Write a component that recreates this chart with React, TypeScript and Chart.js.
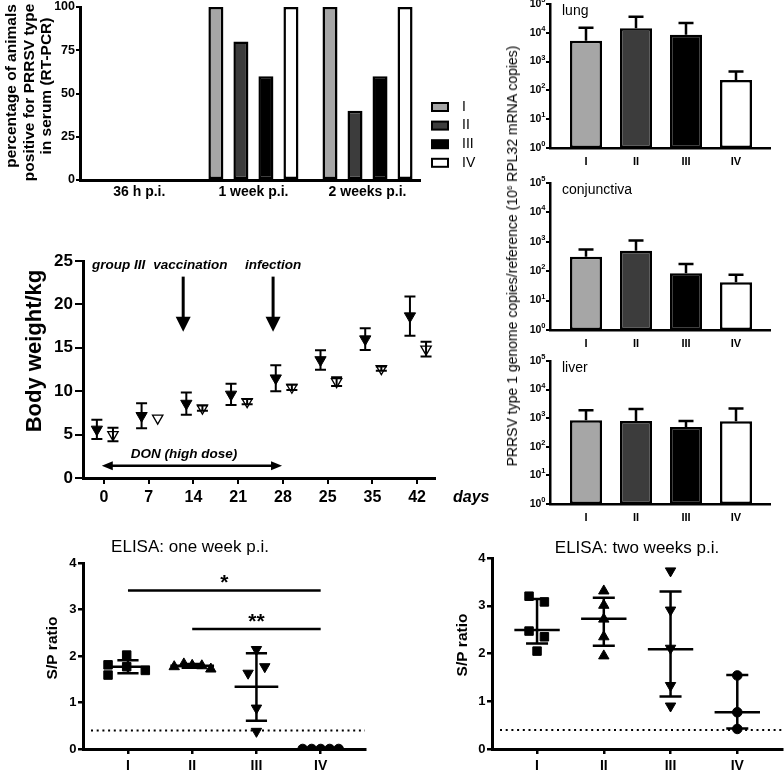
import React, { useEffect, useRef } from 'react';
import { Chart, registerables } from 'chart.js';

Chart.register(...registerables);

const FONT = '"Liberation Sans", Arial, Helvetica, sans-serif';
Chart.defaults.font.family = FONT;
Chart.defaults.color = '#000';

// ---------------- data ----------------
const groupNames = ['I', 'II', 'III', 'IV'];
const groupFill = ['#a6a6a6', '#3c3c3c', '#000000', '#ffffff'];

const rtTimepoints = ['36 h p.i.', '1 week p.i.', '2 weeks p.i.'];
const rtGroupI = [0, 100, 100];
const rtGroupII = [0, 80, 40];
const rtGroupIII = [0, 60, 60];
const rtGroupIV = [0, 100, 100];
const rtTitleLines = ['percentage of animals', 'positive for PRRSV type 1', 'in serum (RT-PCR)'];

const lungMean = [5300, 14400, 8600, 230];
const lungUpper = [15000, 36000, 22000, 450];
const conjMean = [310, 500, 85, 42];
const conjUpper = [550, 1100, 175, 76];
const liverMean = [850, 800, 490, 780];
const liverUpper = [1900, 2100, 800, 2200];
const logTickValues = [1, 10, 100, 1000, 10000, 100000];

const dayLabels = ['0', '7', '14', '21', '28', '25', '35', '42'];
const weightDON = [5.6, 7.17, 8.58, 9.63, 11.5, 13.6, 16.0, 18.65];
const weightDONsd = [1.1, 1.43, 1.28, 1.23, 1.5, 1.13, 1.25, 2.25];
const weightCtrl = [5.0, 6.9, 8.05, 8.8, 10.45, 11.1, 12.6, 14.85];
const weightCtrlSd = [0.78, 0, 0.3, 0.3, 0.3, 0.5, 0.25, 0.85];

const elisa1I = [1.81, 1.59, 2.02, 1.77, 1.69];
const elisa1II = [1.77, 1.83, 1.8, 1.79, 1.72];
const elisa1III = [2.14, 1.63, 1.77, 0.88, 0.38];
const elisa1IV = [0, 0, 0, 0, 0];
const elisa1Center = [1.77, 1.79, 1.34, 0];
const elisa1Low = [1.63, 1.75, 0.61, 0];
const elisa1High = [1.91, 1.83, 2.06, 0];

const elisa2I = [3.2, 3.08, 2.47, 2.35, 2.05];
const elisa2II = [3.31, 3.01, 2.72, 2.35, 1.95];
const elisa2III = [3.73, 2.91, 2.11, 1.33, 0.9];
const elisa2IV = [1.54, 0.77, 0.42];
const elisa2Center = [2.49, 2.73, 2.09, 0.77];
const elisa2Low = [2.21, 2.16, 1.1, 0.43];
const elisa2High = [3.14, 3.17, 3.3, 1.55];

const cutoff = 0.4;
const sigFrom = [0, 1];
const sigTo = [3, 3];
const sigLevel = [3.41, 2.58];
const sigText = ['*', '**'];

// ---------------- styles ----------------
const jitter1 = [
  [-0.31, -0.31, -0.02, -0.02, 0.27],
  [-0.28, -0.13, 0, 0.15, 0.29],
  [0, -0.13, 0.13, 0, 0],
  [-0.28, -0.14, 0, 0.14, 0.28],
];
const jitter2 = [
  [-0.12, 0.11, -0.12, 0.11, 0],
  [0, 0, 0, 0, 0],
  [0, 0, 0, 0, 0],
  [0, 0, 0],
];
const markers = [
  { style: 'rect', r: 6, rot: 0 },
  { style: 'triangle', r: 6, rot: 0 },
  { style: 'triangle', r: 6, rot: 180 },
  { style: 'circle', r: 4.8, rot: 0 },
];
const dodge = [-0.16, 0.2];

const fnt = (size: number, weight = 'normal', style = 'normal') => `${style} ${weight} ${size}px ${FONT}`;

function label(ctx: any, s: string, x: number, y: number, font: string, align: CanvasTextAlign = 'left', baseline: CanvasTextBaseline = 'middle') {
  ctx.font = font;
  ctx.textAlign = align;
  ctx.textBaseline = baseline;
  ctx.fillStyle = '#000';
  ctx.fillText(s, x, y);
}

function vlabel(ctx: any, s: string, x: number, y: number, font: string) {
  ctx.save();
  ctx.translate(x, y);
  ctx.rotate(-Math.PI / 2);
  label(ctx, s, 0, 0, font, 'center', 'middle');
  ctx.restore();
}

function fitY(w: number) {
  return (s: any) => {
    s.width = w;
    s.paddingTop = 0; s.paddingBottom = 0; s.paddingLeft = 0; s.paddingRight = 0;
  };
}
function fitX(h: number) {
  return (s: any) => {
    s.height = h;
    s.paddingTop = 0; s.paddingBottom = 0; s.paddingLeft = 0; s.paddingRight = 0;
  };
}
const border = (w: number) => ({ display: true, color: '#000', width: w });
const tickGrid = (len: number, w: number) => ({ display: true, offset: false, drawOnChartArea: false, drawTicks: true, tickLength: len, tickWidth: w, color: '#000', lineWidth: w });
const noGrid = { display: false, offset: false, drawTicks: false, tickLength: 0 };
const baseOptions = (pad: any) => ({
  responsive: false,
  animation: false,
  events: [],
  layout: { padding: pad, autoPadding: false },
  plugins: { legend: { display: false }, tooltip: { enabled: false }, title: { display: false } },
});

// ---------------- RT-PCR percentage chart ----------------
function makeRT() {
  const series = [rtGroupI, rtGroupII, rtGroupIII, rtGroupIV];
  const legendPlugin = {
    id: 'rtLegend',
    afterDraw(chart: any) {
      const { ctx, chartArea } = chart;
      const x0 = chartArea.right + 12;
      ctx.save();
      groupNames.forEach((g, i) => {
        const yc = 107 + i * 18.6;
        ctx.fillStyle = groupFill[i];
        ctx.fillRect(x0, yc - 4, 16, 8);
        ctx.lineWidth = 2;
        ctx.strokeStyle = '#000';
        ctx.strokeRect(x0, yc - 4, 16, 8);
        label(ctx, g, x0 + 30, yc, fnt(14));
      });
      rtTitleLines.forEach((t, i) => vlabel(ctx, t, 12 + i * 17.5, 86, fnt(15.5, 'bold')));
      ctx.restore();
    },
  };
  return {
    type: 'bar',
    data: {
      datasets: series.map((s, g) => ({
        label: groupNames[g],
        data: s.map((v, i) => ({ x: i, y: v })),
        backgroundColor: groupFill[g],
        borderColor: '#000',
        borderWidth: 2.5,
        borderSkipped: false,
        categoryPercentage: 0.877,
        barPercentage: 0.6,
      })),
    },
    options: {
      ...baseOptions({ top: 7, right: 70, left: 0, bottom: 0 }),
      scales: {
        x: {
          type: 'linear', min: -0.52, max: 2.46, offset: false,
          afterBuildTicks: (s: any) => { s.ticks = rtTimepoints.map((_, i) => ({ value: i })); },
          ticks: { callback: (v: any) => rtTimepoints[v], font: { size: 14, weight: 'bold' }, padding: 4, autoSkip: false, maxRotation: 0 },
          grid: noGrid,
          border: border(3),
          afterFit: fitX(25),
        },
        y: {
          min: 0, max: 100,
          ticks: { stepSize: 25, font: { size: 12.5, weight: 'bold' }, padding: 1 },
          grid: tickGrid(4, 2),
          border: border(3),
          afterFit: fitY(80),
        },
      },
    },
    plugins: [legendPlugin],
  };
}

// ---------------- log-scale tissue charts ----------------
function makeLog(name: string, mean: number[], upper: number[], padTop: number, xH: number) {
  const extras = {
    id: 'logExtras',
    afterDatasetsDraw(chart: any) {
      const { ctx, chartArea } = chart;
      const y = chart.scales.y;
      const meta = chart.getDatasetMeta(0);
      ctx.save();
      ctx.strokeStyle = '#000';
      ctx.lineWidth = 2.5;
      meta.data.forEach((bar: any, i: number) => {
        const yt = y.getPixelForValue(upper[i]);
        ctx.beginPath();
        ctx.moveTo(bar.x, bar.y);
        ctx.lineTo(bar.x, yt);
        ctx.moveTo(bar.x - 7.5, yt);
        ctx.lineTo(bar.x + 7.5, yt);
        ctx.stroke();
      });
      y.ticks.forEach((t: any) => {
        const py = y.getPixelForValue(t.value);
        const exp = String(Math.round(Math.log10(t.value)));
        ctx.font = fnt(7.5, 'bold');
        const ew = ctx.measureText(exp).width;
        const xr = chartArea.left - 4.5;
        label(ctx, exp, xr, py - 4, fnt(7.5, 'bold'), 'right');
        label(ctx, '10', xr - ew, py, fnt(10.5, 'bold'), 'right');
      });
      label(ctx, name, chartArea.left + 12, chartArea.top + 7, fnt(14));
      ctx.restore();
    },
  };
  return {
    type: 'bar',
    data: {
      datasets: [{
        data: mean.map((v, i) => ({ x: i, y: v })),
        backgroundColor: groupFill,
        borderColor: '#000',
        borderWidth: 2.5,
        borderSkipped: false,
        barPercentage: 0.64,
        categoryPercentage: 1,
      }],
    },
    options: {
      ...baseOptions({ top: padTop, right: 14, left: 0, bottom: 0 }),
      scales: {
        x: {
          type: 'linear', min: -0.72, max: 3.68, offset: false,
          afterBuildTicks: (s: any) => { s.ticks = groupNames.map((_, i) => ({ value: i })); },
          ticks: { callback: (v: any) => groupNames[v], font: { size: 11, weight: 'bold' }, padding: 7, autoSkip: false, maxRotation: 0 },
          grid: noGrid,
          border: border(2.5),
          afterFit: fitX(xH),
        },
        y: {
          type: 'logarithmic', min: 1, max: 100000,
          afterBuildTicks: (s: any) => { s.ticks = logTickValues.map((v) => ({ value: v })); },
          ticks: { display: false },
          grid: tickGrid(4, 2),
          border: border(2.5),
          afterFit: fitY(60),
        },
      },
    },
    plugins: [extras],
  };
}

// ---------------- body weight chart ----------------
function downArrow(ctx: any, x: number, yTop: number, yTip: number, headLen: number, halfW: number, lw: number) {
  ctx.beginPath();
  ctx.lineWidth = lw;
  ctx.moveTo(x, yTop);
  ctx.lineTo(x, yTip - headLen + 1);
  ctx.stroke();
  ctx.beginPath();
  ctx.moveTo(x - halfW, yTip - headLen);
  ctx.lineTo(x + halfW, yTip - headLen);
  ctx.lineTo(x, yTip);
  ctx.closePath();
  ctx.fill();
}

function makeWeight() {
  const extras = {
    id: 'weightExtras',
    afterDatasetsDraw(chart: any) {
      const { ctx, chartArea } = chart;
      const { x, y } = chart.scales;
      ctx.save();
      ctx.strokeStyle = '#000';
      ctx.fillStyle = '#000';
      ctx.lineWidth = 2;
      const vals = [weightDON, weightCtrl];
      const sds = [weightDONsd, weightCtrlSd];
      [0, 1].forEach((d) => {
        const meta = chart.getDatasetMeta(d);
        meta.data.forEach((pt: any, i: number) => {
          const sd = sds[d][i];
          if (!sd) return;
          const y1 = y.getPixelForValue(vals[d][i] + sd);
          const y2 = y.getPixelForValue(vals[d][i] - sd);
          ctx.beginPath();
          ctx.lineWidth = 2;
          ctx.moveTo(pt.x, y1); ctx.lineTo(pt.x, y2);
          ctx.moveTo(pt.x - 5.5, y1); ctx.lineTo(pt.x + 5.5, y1);
          ctx.moveTo(pt.x - 5.5, y2); ctx.lineTo(pt.x + 5.5, y2);
          ctx.stroke();
        });
      });
      // event annotations
      const ty = y.getPixelForValue(24.5);
      label(ctx, 'group III', x.getPixelForValue(-0.27), ty, fnt(13.5, 'bold', 'italic'));
      label(ctx, 'vaccination', x.getPixelForValue(1.1), ty, fnt(13.5, 'bold', 'italic'));
      label(ctx, 'infection', x.getPixelForValue(3.15), ty, fnt(13.5, 'bold', 'italic'));
      ctx.fillStyle = '#000';
      downArrow(ctx, x.getPixelForValue(1.77), y.getPixelForValue(23.2), y.getPixelForValue(16.85), 15, 7.5, 3);
      downArrow(ctx, x.getPixelForValue(3.78), y.getPixelForValue(23.2), y.getPixelForValue(16.85), 15, 7.5, 3);
      // DON period
      const ay = y.getPixelForValue(1.41);
      const ax1 = x.getPixelForValue(-0.05);
      const ax2 = x.getPixelForValue(3.98);
      ctx.beginPath();
      ctx.lineWidth = 2.5;
      ctx.moveTo(ax1 + 8, ay); ctx.lineTo(ax2 - 8, ay);
      ctx.stroke();
      ctx.beginPath();
      ctx.moveTo(ax1, ay); ctx.lineTo(ax1 + 11, ay - 4.5); ctx.lineTo(ax1 + 11, ay + 4.5); ctx.closePath();
      ctx.moveTo(ax2, ay); ctx.lineTo(ax2 - 11, ay - 4.5); ctx.lineTo(ax2 - 11, ay + 4.5); ctx.closePath();
      ctx.fill();
      label(ctx, 'DON (high dose)', x.getPixelForValue(1.79), y.getPixelForValue(2.68), fnt(13.5, 'bold', 'italic'), 'center');
      label(ctx, 'days', chartArea.right + 18, chartArea.bottom + 20, fnt(16, 'bold', 'italic'));
      vlabel(ctx, 'Body weight/kg', 35, 116, fnt(22, 'bold'));
      ctx.restore();
    },
  };
  return {
    type: 'scatter',
    data: {
      datasets: [
        {
          data: weightDON.map((v, i) => ({ x: i + dodge[0], y: v })),
          pointStyle: 'triangle', pointRotation: 180, pointRadius: 6.5,
          pointBackgroundColor: '#000', pointBorderColor: '#000', pointBorderWidth: 1,
        },
        {
          data: weightCtrl.map((v, i) => ({ x: i + dodge[1], y: v })),
          pointStyle: 'triangle', pointRotation: 180, pointRadius: 6,
          pointBackgroundColor: '#fff', pointBorderColor: '#000', pointBorderWidth: 1.3,
        },
      ],
    },
    options: {
      ...baseOptions({ top: 26, right: 60, left: 0, bottom: 0 }),
      scales: {
        x: {
          type: 'linear', min: -0.47, max: 7.4, offset: false,
          afterBuildTicks: (s: any) => { s.ticks = dayLabels.map((_, i) => ({ value: i })); },
          ticks: { callback: (v: any) => dayLabels[v], font: { size: 16, weight: 'bold' }, padding: 4, autoSkip: false, maxRotation: 0 },
          grid: tickGrid(6, 2),
          border: border(3),
          afterFit: fitX(32),
        },
        y: {
          min: 0, max: 25,
          ticks: { stepSize: 5, font: { size: 17, weight: 'bold' }, padding: 2 },
          grid: tickGrid(8, 2),
          border: border(3),
          afterFit: fitY(83),
        },
      },
    },
    plugins: [extras],
  };
}

// ---------------- ELISA charts ----------------
type ElisaCfg = {
  groups: number[][]; jitter: number[][]; center: number[]; low: number[]; high: number[];
  title: string; titleX: number; titleY: number; xMin: number; xMax: number;
  pad: any; yW: number; yTitleX: number; yTitleY: number; sig: boolean;
};

function makeElisa(c: ElisaCfg) {
  const extras = {
    id: 'elisaExtras',
    beforeDatasetsDraw(chart: any) {
      const { ctx, chartArea } = chart;
      const y = chart.scales.y;
      const py = y.getPixelForValue(cutoff);
      ctx.save();
      ctx.strokeStyle = '#000';
      ctx.lineWidth = 2;
      ctx.setLineDash([2, 3.7]);
      ctx.beginPath();
      ctx.moveTo(chartArea.left + 8, py);
      ctx.lineTo(chartArea.right, py);
      ctx.stroke();
      ctx.restore();
    },
    afterDatasetsDraw(chart: any) {
      const { ctx } = chart;
      const { x, y } = chart.scales;
      ctx.save();
      ctx.strokeStyle = '#000';
      ctx.lineWidth = 2.5;
      c.center.forEach((m, g) => {
        const cx = x.getPixelForValue(g);
        const hw = x.getPixelForValue(g + 0.34) - cx;
        const cw = x.getPixelForValue(g + 0.165) - cx;
        const pm = y.getPixelForValue(m);
        const pl = y.getPixelForValue(c.low[g]);
        const ph = y.getPixelForValue(c.high[g]);
        ctx.beginPath();
        ctx.moveTo(cx - hw, pm); ctx.lineTo(cx + hw, pm);
        ctx.moveTo(cx, pl); ctx.lineTo(cx, ph);
        ctx.moveTo(cx - cw, pl); ctx.lineTo(cx + cw, pl);
        ctx.moveTo(cx - cw, ph); ctx.lineTo(cx + cw, ph);
        ctx.stroke();
      });
      if (c.sig) {
        sigLevel.forEach((lv, k) => {
          const p = y.getPixelForValue(lv);
          const x1 = x.getPixelForValue(sigFrom[k]);
          const x2 = x.getPixelForValue(sigTo[k]);
          ctx.beginPath();
          ctx.moveTo(x1, p); ctx.lineTo(x2, p);
          ctx.stroke();
          label(ctx, sigText[k], (x1 + x2) / 2, p - 1, fnt(21, 'bold'), 'center', 'alphabetic');
        });
      }
      label(ctx, c.title, c.titleX, c.titleY, fnt(17), 'center');
      vlabel(ctx, 'S/P ratio', c.yTitleX, c.yTitleY, fnt(15.5, 'bold'));
      ctx.restore();
    },
  };
  return {
    type: 'scatter',
    data: {
      datasets: c.groups.map((vals, g) => ({
        data: vals.map((v, j) => ({ x: g + c.jitter[g][j], y: v })),
        pointStyle: markers[g].style,
        pointRotation: markers[g].rot,
        pointRadius: markers[g].r,
        pointBackgroundColor: '#000',
        pointBorderColor: '#000',
        pointBorderWidth: 1,
      })),
    },
    options: {
      ...baseOptions(c.pad),
      scales: {
        x: {
          type: 'linear', min: c.xMin, max: c.xMax, offset: false,
          afterBuildTicks: (s: any) => { s.ticks = groupNames.map((_, i) => ({ value: i })); },
          ticks: { callback: (v: any) => groupNames[v], font: { size: 14, weight: 'bold' }, padding: 4, autoSkip: false, maxRotation: 0 },
          grid: tickGrid(5, 2.5),
          border: border(3),
          afterFit: fitX(25),
        },
        y: {
          min: 0, max: 4,
          ticks: { stepSize: 1, font: { size: 13, weight: 'bold' }, padding: 1.5 },
          grid: tickGrid(5, 2.5),
          border: border(3),
          afterFit: fitY(c.yW),
        },
      },
    },
    plugins: [extras],
  };
}

const makeElisa1 = () => makeElisa({
  groups: [elisa1I, elisa1II, elisa1III, elisa1IV], jitter: jitter1,
  center: elisa1Center, low: elisa1Low, high: elisa1High,
  title: 'ELISA: one week p.i.', titleX: 190, titleY: 27, xMin: -0.7, xMax: 3.69,
  pad: { top: 43, right: 35, left: 0, bottom: 0 }, yW: 83, yTitleX: 53, yTitleY: 128, sig: true,
});
const makeElisa2 = () => makeElisa({
  groups: [elisa2I, elisa2II, elisa2III, elisa2IV], jitter: jitter2,
  center: elisa2Center, low: elisa2Low, high: elisa2High,
  title: 'ELISA: two weeks p.i.', titleX: 237, titleY: 28, xMin: -0.675, xMax: 3.67,
  pad: { top: 38, right: 2, left: 0, bottom: 0 }, yW: 92, yTitleX: 63, yTitleY: 125, sig: false,
});

// ---------------- components ----------------
type Rect = { left: number; top: number; width: number; height: number };

function ChartCanvas({ rect, make }: { rect: Rect; make: () => any }) {
  const ref = useRef<HTMLCanvasElement | null>(null);
  useEffect(() => {
    const chart = new Chart(ref.current as HTMLCanvasElement, make());
    return () => chart.destroy();
  }, []);
  return (
    <canvas
      ref={ref}
      width={rect.width}
      height={rect.height}
      style={{ position: 'absolute', left: rect.left, top: rect.top, width: rect.width, height: rect.height }}
    />
  );
}

export default function App() {
  return (
    <div style={{ position: 'fixed', left: 0, top: 0, width: 784, height: 774, background: '#fff', overflow: 'hidden' }}>
      <ChartCanvas rect={{ left: 0, top: 0, width: 490, height: 205 }} make={makeRT} />
      <ChartCanvas rect={{ left: 490, top: 0, width: 294, height: 172 }} make={() => makeLog('lung', lungMean, lungUpper, 4, 24)} />
      <ChartCanvas rect={{ left: 490, top: 175, width: 294, height: 180 }} make={() => makeLog('conjunctiva', conjMean, conjUpper, 8, 25)} />
      <ChartCanvas rect={{ left: 490, top: 352, width: 294, height: 178 }} make={() => makeLog('liver', liverMean, liverUpper, 9, 26)} />
      <ChartCanvas rect={{ left: 0, top: 235, width: 495, height: 275 }} make={makeWeight} />
      <ChartCanvas rect={{ left: 0, top: 520, width: 400, height: 254 }} make={makeElisa1} />
      <ChartCanvas rect={{ left: 400, top: 520, width: 384, height: 254 }} make={makeElisa2} />
      <div
        style={{
          position: 'absolute', left: 512, top: 256,
          transform: 'translate(-50%, -50%) rotate(-90deg)',
          whiteSpace: 'nowrap', fontFamily: FONT, fontSize: 14, lineHeight: 1, color: '#000',
        }}
      >
        PRRSV type 1 genome copies/reference (10<sup style={{ fontSize: 8, verticalAlign: 5 }}>6</sup> RPL32 mRNA copies)
      </div>
    </div>
  );
}
